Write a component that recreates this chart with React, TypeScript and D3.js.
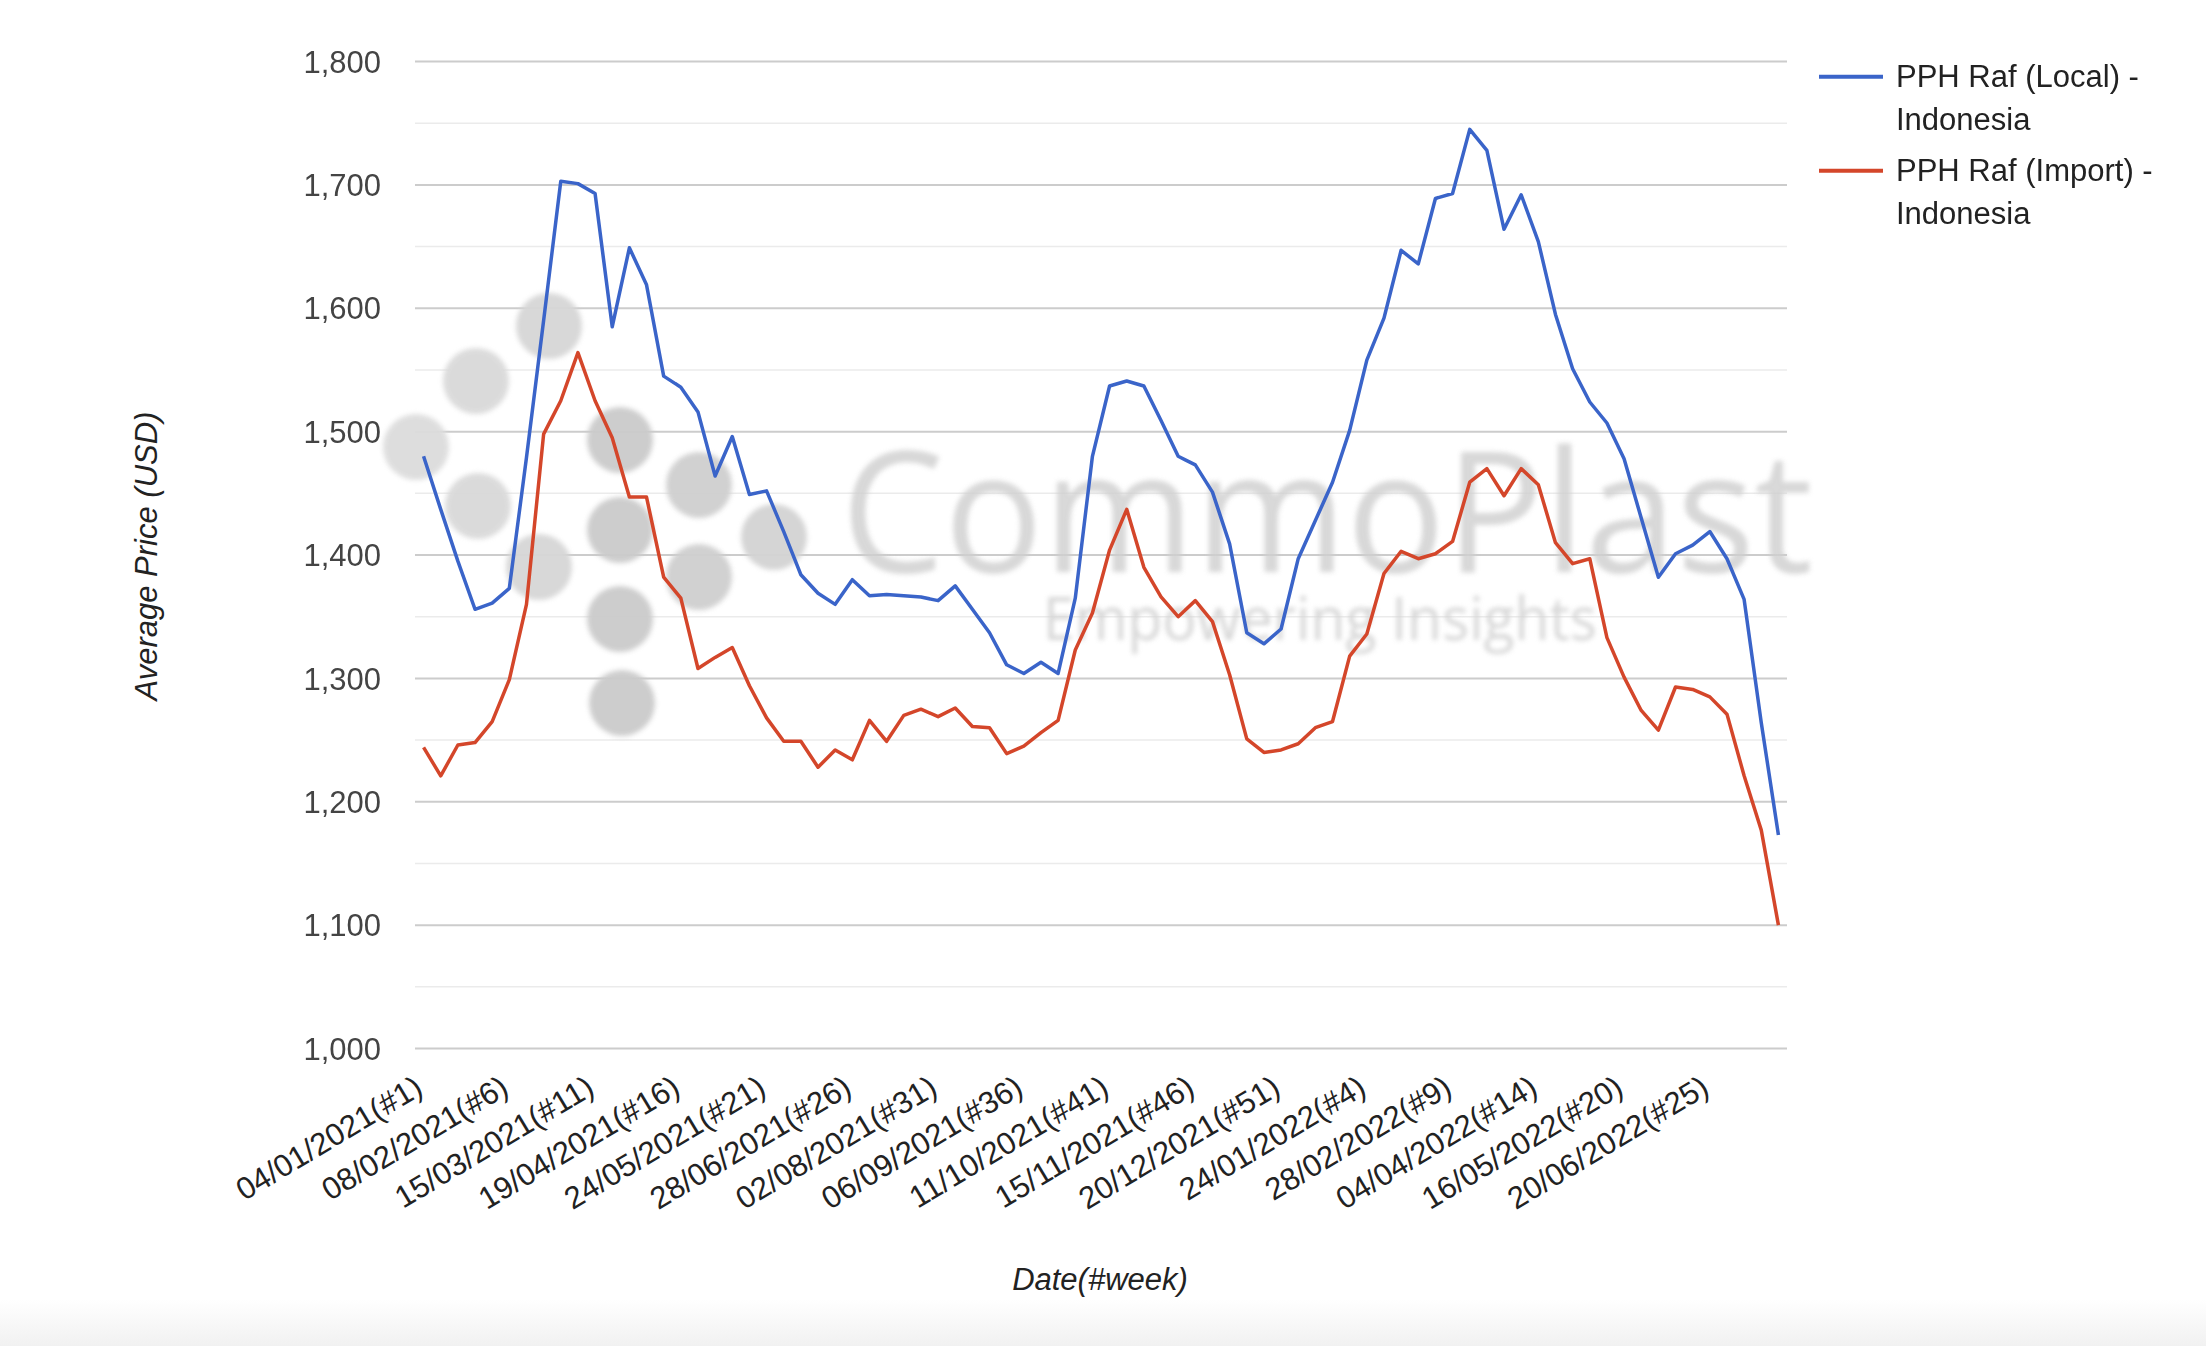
import React from "react";
import * as d3 from "d3";

const categories: string[] = [
  "04/01/2021(#1)", "11/01/2021(#2)", "18/01/2021(#3)", "25/01/2021(#4)", "01/02/2021(#5)",
  "08/02/2021(#6)", "15/02/2021(#7)", "22/02/2021(#8)", "01/03/2021(#9)", "08/03/2021(#10)",
  "15/03/2021(#11)", "22/03/2021(#12)", "29/03/2021(#13)", "05/04/2021(#14)", "12/04/2021(#15)",
  "19/04/2021(#16)", "26/04/2021(#17)", "03/05/2021(#18)", "10/05/2021(#19)", "17/05/2021(#20)",
  "24/05/2021(#21)", "31/05/2021(#22)", "07/06/2021(#23)", "14/06/2021(#24)", "21/06/2021(#25)",
  "28/06/2021(#26)", "05/07/2021(#27)", "12/07/2021(#28)", "19/07/2021(#29)", "26/07/2021(#30)",
  "02/08/2021(#31)", "09/08/2021(#32)", "16/08/2021(#33)", "23/08/2021(#34)", "30/08/2021(#35)",
  "06/09/2021(#36)", "13/09/2021(#37)", "20/09/2021(#38)", "27/09/2021(#39)", "04/10/2021(#40)",
  "11/10/2021(#41)", "18/10/2021(#42)", "25/10/2021(#43)", "01/11/2021(#44)", "08/11/2021(#45)",
  "15/11/2021(#46)", "22/11/2021(#47)", "29/11/2021(#48)", "06/12/2021(#49)", "13/12/2021(#50)",
  "20/12/2021(#51)", "27/12/2021(#52)", "03/01/2022(#1)", "10/01/2022(#2)", "17/01/2022(#3)",
  "24/01/2022(#4)", "31/01/2022(#5)", "07/02/2022(#6)", "14/02/2022(#7)", "21/02/2022(#8)",
  "28/02/2022(#9)", "07/03/2022(#10)", "14/03/2022(#11)", "21/03/2022(#12)", "28/03/2022(#13)",
  "04/04/2022(#14)", "11/04/2022(#15)", "18/04/2022(#16)", "25/04/2022(#17)", "09/05/2022(#19)",
  "16/05/2022(#20)", "23/05/2022(#21)", "30/05/2022(#22)", "06/06/2022(#23)", "13/06/2022(#24)",
  "20/06/2022(#25)", "27/06/2022(#26)", "04/07/2022(#27)", "11/07/2022(#28)", "18/07/2022(#29)",
];

const localPrice: number[] = [
  1480, 1437, 1395, 1356, 1361, 1373, 1479, 1590, 1703, 1701,
  1693, 1585, 1649, 1619, 1545, 1536, 1516, 1464, 1496, 1449,
  1452, 1419, 1384, 1369, 1360, 1380, 1367, 1368, 1367, 1366,
  1363, 1375, 1356, 1337, 1311, 1304, 1313, 1304, 1365, 1480,
  1537, 1541, 1537, 1509, 1480, 1473, 1451, 1409, 1337, 1328,
  1340, 1397, 1428, 1459, 1501, 1558, 1592, 1647, 1636, 1689,
  1693, 1745, 1728, 1664, 1692, 1654, 1595, 1551, 1524, 1507,
  1478, 1430, 1382, 1401, 1408, 1419, 1397, 1364, 1264, 1173,
];

const importPrice: number[] = [
  1244, 1221, 1246, 1248, 1265, 1299, 1360, 1498, 1525, 1564,
  1525, 1495, 1447, 1447, 1382, 1365, 1308, 1317, 1325, 1294,
  1268, 1249, 1249, 1228, 1242, 1234, 1266, 1249, 1270, 1275,
  1269, 1276, 1261, 1260, 1239, 1245, 1256, 1266, 1323, 1353,
  1404, 1437, 1390, 1366, 1350, 1363, 1346, 1303, 1251, 1240,
  1242, 1247, 1260, 1265, 1318, 1336, 1385, 1403, 1397, 1401,
  1411, 1459, 1470, 1448, 1470, 1457, 1410, 1393, 1397, 1333,
  1301, 1274, 1258, 1293, 1291, 1285, 1271, 1221, 1177, 1100,
];

const seriesNames: string[][] = [
  ["PPH Raf (Local) -", "Indonesia"],
  ["PPH Raf (Import) -", "Indonesia"],
];
const seriesColors: string[] = ["#3a64c9", "#d4462a"];

const yTicks: number[] = [1000, 1100, 1200, 1300, 1400, 1500, 1600, 1700, 1800];
const yMinorTicks: number[] = [1050, 1150, 1250, 1350, 1450, 1550, 1650, 1750];
const xTickEvery = 5;

const logoDots: { cx: number; cy: number; shade: string }[] = [
  { cx: 549, cy: 326, shade: "#d6d6d6" },
  { cx: 476, cy: 381, shade: "#d9d9d9" },
  { cx: 416, cy: 447, shade: "#dcdcdc" },
  { cx: 478, cy: 506, shade: "#d9d9d9" },
  { cx: 539, cy: 567, shade: "#d6d6d6" },
  { cx: 620, cy: 440, shade: "#cbcbcb" },
  { cx: 620, cy: 530, shade: "#cbcbcb" },
  { cx: 620, cy: 619, shade: "#cbcbcb" },
  { cx: 622, cy: 703, shade: "#cbcbcb" },
  { cx: 699, cy: 485, shade: "#cfcfcf" },
  { cx: 699, cy: 577, shade: "#cfcfcf" },
  { cx: 774, cy: 537, shade: "#d3d3d3" },
];

const W = 2206;
const H = 1346;
const plot = { left: 415, right: 1787, top: 61.5, bottom: 1048.5 };
const FONT = "Arial, 'Liberation Sans', Helvetica, sans-serif";

export default function App() {
  const x = d3
    .scaleBand<string>()
    .domain(categories)
    .range([plot.left, plot.right]);
  const xc = (c: string) => (x(c) as number) + x.bandwidth() / 2;
  const y = d3.scaleLinear().domain([1000, 1800]).range([plot.bottom, plot.top]);

  const line = d3
    .line<number>()
    .x((_, i) => xc(categories[i]))
    .y((v) => y(v));

  const series = [localPrice, importPrice];
  const xTicks = categories.filter((_, i) => i % xTickEvery === 0);

  return (
    <svg
      width={W}
      height={H}
      style={{ position: "absolute", left: 0, top: 0, background: "#ffffff" }}
    >
      <defs>
        <filter id="blur" x="-50%" y="-50%" width="200%" height="200%">
          <feGaussianBlur stdDeviation="2.5" />
        </filter>
        <linearGradient id="bottomFade" x1="0" y1="0" x2="0" y2="1">
          <stop offset="0" stopColor="#ffffff" />
          <stop offset="1" stopColor="#f1f1f1" />
        </linearGradient>
      </defs>
      <rect x={0} y={0} width={W} height={H} fill="#ffffff" />
      <rect x={0} y={1300} width={W} height={46} fill="url(#bottomFade)" />

      {/* minor gridlines */}
      {yMinorTicks.map((t) => (
        <line
          key={"m" + t}
          x1={plot.left}
          x2={plot.right}
          y1={y(t)}
          y2={y(t)}
          stroke="#ebebeb"
          strokeWidth={1.5}
        />
      ))}
      {/* major gridlines */}
      {yTicks.map((t) => (
        <line
          key={"g" + t}
          x1={plot.left}
          x2={plot.right}
          y1={y(t)}
          y2={y(t)}
          stroke="#cccccc"
          strokeWidth={2}
        />
      ))}

      {/* watermark */}
      <g opacity={0.95}>
        {logoDots.map((d, i) => (
          <circle key={i} cx={d.cx} cy={d.cy} r={33} fill={d.shade} filter="url(#blur)" />
        ))}
        <text
          x={841}
          y={572}
          fontFamily="'Open Sans', Arial, sans-serif"
          fontSize={168}
          fill="#cfcfcf"
          fillOpacity={0.85}
          textLength={972}
          lengthAdjust="spacingAndGlyphs"
          filter="url(#blur)"
        >
          CommoPlast
        </text>
        <text
          x={1043}
          y={640}
          fontFamily="'Open Sans', Arial, sans-serif"
          fontSize={60}
          fill="#d4d4d4"
          textLength={554}
          lengthAdjust="spacingAndGlyphs"
          filter="url(#blur)"
        >
          Empowering Insights
        </text>
      </g>

      {/* y tick labels */}
      {yTicks.map((t) => (
        <text
          key={"yl" + t}
          x={381}
          y={y(t)}
          dy="0.36em"
          textAnchor="end"
          fontFamily={FONT}
          fontSize={31}
          fill="#444444"
        >
          {d3.format(",")(t)}
        </text>
      ))}

      {/* x tick labels */}
      {xTicks.map((c) => {
        const px = xc(c) + 1;
        const py = 1093;
        return (
          <text
            key={"xl" + c}
            x={px}
            y={py}
            textAnchor="end"
            transform={`rotate(-31 ${px} ${py})`}
            fontFamily={FONT}
            fontSize={31}
            fill="#222222"
          >
            {c}
          </text>
        );
      })}

      {/* axis titles */}
      <text
        x={1100}
        y={1290}
        textAnchor="middle"
        fontFamily={FONT}
        fontStyle="italic"
        fontSize={31}
        fill="#222222"
      >
        Date(#week)
      </text>
      <text
        transform={`translate(157 556) rotate(-90)`}
        textAnchor="middle"
        fontFamily={FONT}
        fontStyle="italic"
        fontSize={31}
        fill="#222222"
      >
        Average Price (USD)
      </text>

      {/* series lines */}
      {series.map((s, k) => (
        <path
          key={"s" + k}
          d={line(s) || ""}
          fill="none"
          stroke={seriesColors[k]}
          strokeWidth={3.5}
          strokeLinejoin="round"
        />
      ))}

      {/* legend */}
      {seriesNames.map((lines, k) => {
        const top = 76.7 + k * 94;
        return (
          <g key={"lg" + k}>
            <line
              x1={1819}
              x2={1883}
              y1={top}
              y2={top}
              stroke={seriesColors[k]}
              strokeWidth={4}
            />
            {lines.map((ln, j) => (
              <text
                key={j}
                x={1896}
                y={top + 10 + j * 43.3}
                fontFamily={FONT}
                fontSize={31}
                fill="#222222"
              >
                {ln}
              </text>
            ))}
          </g>
        );
      })}
    </svg>
  );
}
